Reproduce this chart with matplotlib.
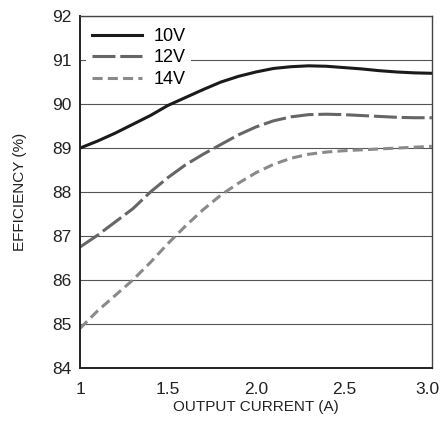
import matplotlib
matplotlib.use("Agg")
import matplotlib.pyplot as plt
import matplotlib.transforms as mtransforms

# output current (A)
current = [1.0, 1.1, 1.2, 1.3, 1.4, 1.5, 1.6, 1.7, 1.8, 1.9, 2.0,
           2.1, 2.2, 2.3, 2.4, 2.5, 2.6, 2.7, 2.8, 2.9, 3.0]

# efficiency (%) per input voltage
eff_10v = [89.00, 89.16, 89.34, 89.54, 89.74, 89.97, 90.15, 90.33, 90.50, 90.63, 90.73,
           90.81, 90.85, 90.87, 90.86, 90.83, 90.80, 90.76, 90.73, 90.71, 90.70]
eff_12v = [86.75, 87.02, 87.32, 87.62, 88.00, 88.33, 88.62, 88.86, 89.08, 89.30, 89.48,
           89.62, 89.71, 89.76, 89.77, 89.76, 89.74, 89.72, 89.70, 89.69, 89.69]
eff_14v = [84.90, 85.30, 85.65, 86.00, 86.40, 86.83, 87.23, 87.60, 87.93, 88.20, 88.44,
           88.63, 88.77, 88.86, 88.91, 88.94, 88.96, 88.98, 89.00, 89.02, 89.04]

series_labels = ["10V", "12V", "14V"]
x_ticks = [1.0, 1.5, 2.0, 2.5, 3.0]
x_tick_labels = ["1", "1.5", "2.0", "2.5", "3.0"]
y_ticks = [84, 85, 86, 87, 88, 89, 90, 91, 92]

plt.rcParams["font.family"] = ["Liberation Sans Narrow", "Liberation Sans", "DejaVu Sans"]

fig = plt.figure(figsize=(4.42, 4.24), dpi=100)
ax = fig.add_axes([0.181, 0.132, 0.796, 0.830])

ax.plot(current, eff_10v, color="#1a1a1a", lw=2.2, label=series_labels[0])
ax.plot(current, eff_12v, color="#666666", lw=2.2, dashes=(7.5, 1.6), label=series_labels[1])
ax.plot(current, eff_14v, color="#8a8a8a", lw=2.2, dashes=(3.3, 1.7), label=series_labels[2])

ax.set_xlim(1.0, 3.0)
ax.set_ylim(84, 92)
ax.set_xticks(x_ticks)
ax.set_xticklabels(x_tick_labels)
ax.set_yticks(y_ticks)
ax.tick_params(length=0, labelsize=12.5, colors="#222222")
ax.tick_params(axis="x", pad=10)
ax.tick_params(axis="y", pad=6)

# keep the last x label inside the figure (wider font than the original)
last = ax.get_xticklabels()[-1]
last.set_transform(last.get_transform() +
                   mtransforms.ScaledTranslation(-4 / 100, 0, fig.dpi_scale_trans))

ax.yaxis.grid(True, color="#555555", lw=0.8)
ax.set_axisbelow(True)

for side in ["left", "bottom"]:
    ax.spines[side].set_linewidth(1.4)
    ax.spines[side].set_color("#222222")
for side in ["top", "right"]:
    ax.spines[side].set_linewidth(1.0)
    ax.spines[side].set_color("#444444")

ax.set_xlabel("OUTPUT CURRENT (A)", fontsize=11, color="#222222", labelpad=2)
ax.set_ylabel("EFFICIENCY (%)", fontsize=11, color="#222222", labelpad=18)

leg = ax.legend(loc="upper left", frameon=True, fontsize=13, handlelength=2.8,
                handletextpad=0.6, labelspacing=0.25, borderpad=0.3,
                borderaxespad=0.35)
leg.get_frame().set_edgecolor("none")
leg.get_frame().set_facecolor("white")
leg.get_frame().set_alpha(1.0)

fig.savefig("out.png", dpi=100)
